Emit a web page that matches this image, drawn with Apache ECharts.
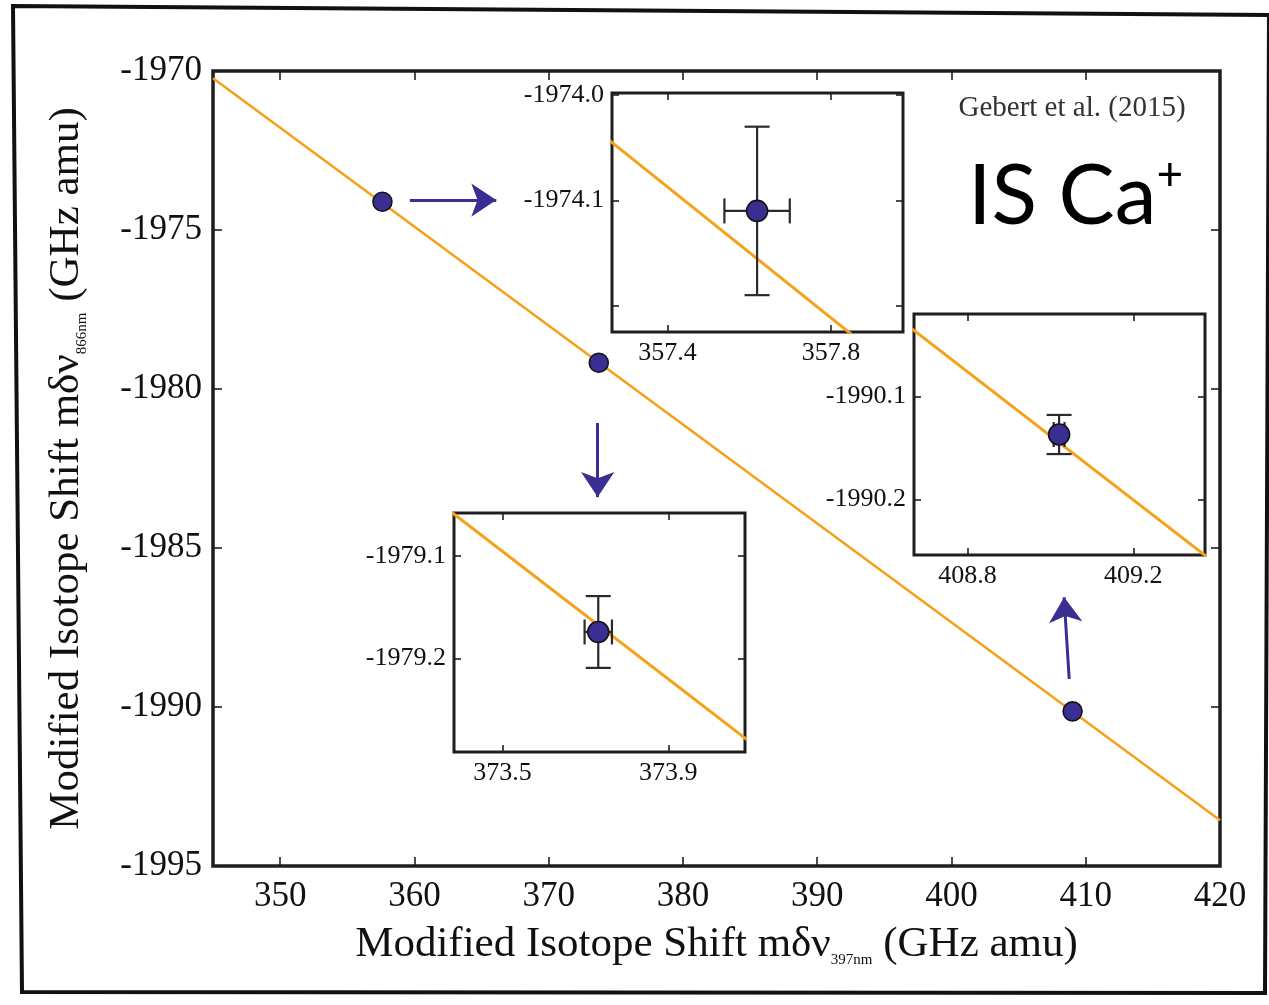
<!DOCTYPE html>
<html>
<head>
<meta charset="utf-8">
<script src="https://cdn.jsdelivr.net/npm/echarts@6/dist/echarts.min.js"></script>
<style>html,body{margin:0;padding:0;background:#fff}#c{width:1269px;height:1005px}</style>
</head>
<body>
<div id="c"></div>
<script>
// ---- data ----
const pointsX = [357.619, 373.731, 409.021];
const pointsY = [-1974.110, -1979.174, -1990.137];
const errX = [0.080, 0.033, 0.013];
const errY = [0.080, 0.035, 0.019];
const fitLineX = [345, 420];
const fitLineY = [-1970.23, -1993.56];

const mainXTicks = [350, 360, 370, 380, 390, 400, 410, 420];
const mainYTicks = [-1995, -1990, -1985, -1980, -1975, -1970];
const mainXRange = [345, 420];
const mainYRange = [-1995, -1970];

const inset1XRange = [357.264, 357.976];
const inset1YRange = [-1974.225, -1973.998];
const inset1XTicks = [357.4, 357.8];
const inset1YTicks = [-1974.2, -1974.1, -1974.0];
const inset1YLabels = [-1974.1, -1974.0];

const inset2XRange = [373.383, 374.085];
const inset2YRange = [-1979.291, -1979.058];
const inset2XTicks = [373.5, 373.9];
const inset2YTicks = [-1979.2, -1979.1];

const inset3XRange = [408.671, 409.373];
const inset3YRange = [-1990.254, -1990.020];
const inset3XTicks = [408.8, 409.2];
const inset3YTicks = [-1990.2, -1990.1];

// arrow annotations (data coordinates of main plot)
const arrowStartX = [359.66, 373.65, 408.77];
const arrowStartY = [-1974.06, -1981.07, -1989.12];
const arrowEndX = [366.10, 373.65, 408.39];
const arrowEndY = [-1974.06, -1983.40, -1986.55];

// ---- styling ----
const SERIF = "'Liberation Serif','Times New Roman',serif";
const DARK = '#1e1e1e';
const ORANGE = '#f6a11a';
const PURPLE = '#3b2e93';

const pts = pointsX.map((x, i) => [x, pointsY[i]]);
const errData = pointsX.map((x, i) => [x, pointsY[i], errX[i], errY[i]]);
const fitData = fitLineX.map((x, i) => [x, fitLineY[i]]);

const grids = [
  {left: 213, top: 71, right: 49, bottom: 139, show: true, borderColor: DARK, borderWidth: 3.5, backgroundColor: '#fff', z: 0},
  {left: 612, top: 93, width: 291, height: 239, show: true, borderColor: DARK, borderWidth: 3, backgroundColor: '#fff', z: 10},
  {left: 454, top: 513, width: 291, height: 239, show: true, borderColor: DARK, borderWidth: 3, backgroundColor: '#fff', z: 10},
  {left: 914, top: 314, width: 291, height: 241, show: true, borderColor: DARK, borderWidth: 3, backgroundColor: '#fff', z: 10}
].map(g => Object.assign({containLabel: false, outerBoundsMode: 'none'}, g));

const xAxes = [], yAxes = [];
function addAxes(gi, xr, yr, xt, yt, xl, yl, opts) {
  const z = gi === 0 ? 1 : 11;
  const fs = opts.fontSize, tl = opts.tickLen, dec = opts.dec;
  const fmt = v => dec ? Number(v).toFixed(dec) : String(Math.round(v));
  ['bottom', 'top'].forEach(pos => {
    xAxes.push({
      type: 'value', gridIndex: gi, position: pos, min: xr[0], max: xr[1], z: z,
      axisLine: {show: false}, splitLine: {show: false},
      axisTick: {show: true, inside: true, length: tl, customValues: xt, lineStyle: {color: DARK, width: 1.6}},
      axisLabel: {show: pos === 'bottom', customValues: xl, formatter: fmt, fontFamily: SERIF, fontSize: fs, color: '#111', margin: opts.xMargin},
      name: pos === 'bottom' ? opts.xName : '', nameLocation: 'middle', nameGap: opts.xNameGap, nameTextStyle: opts.xNameStyle
    });
  });
  ['left', 'right'].forEach(pos => {
    yAxes.push({
      type: 'value', gridIndex: gi, position: pos, min: yr[0], max: yr[1], z: z,
      axisLine: {show: false}, splitLine: {show: false},
      axisTick: {show: true, inside: true, length: tl, customValues: yt, lineStyle: {color: DARK, width: 1.6}},
      axisLabel: {show: pos === 'left', customValues: yl, formatter: fmt, fontFamily: SERIF, fontSize: fs, color: '#111', margin: opts.yMargin},
      name: pos === 'left' ? opts.yName : '', nameLocation: 'middle', nameGap: opts.yNameGap, nameRotate: 90, nameTextStyle: opts.yNameStyle
    });
  });
}

const nameStyle = {
  fontFamily: SERIF, fontSize: 43, color: '#111', lineHeight: 46,
  rich: {s: {fontFamily: SERIF, fontSize: 15, lineHeight: 15, verticalAlign: 'bottom', color: '#111'}}
};

addAxes(0, mainXRange, mainYRange, mainXTicks, mainYTicks, mainXTicks, mainYTicks, {
  fontSize: 35, tickLen: 9, dec: 0, xMargin: 13, yMargin: 11,
  xName: 'Modified Isotope Shift mδν{s|397nm} (GHz amu)', xNameGap: 56, xNameStyle: nameStyle,
  yName: 'Modified Isotope Shift mδν{s|866nm} (GHz amu)', yNameGap: 123, yNameStyle: nameStyle
});
const insetOpts = {fontSize: 26, tickLen: 7, dec: 1, xMargin: 8, yMargin: 8};
addAxes(1, inset1XRange, inset1YRange, inset1XTicks, inset1YTicks, inset1XTicks, inset1YLabels, insetOpts);
addAxes(2, inset2XRange, inset2YRange, inset2XTicks, inset2YTicks, inset2XTicks, inset2YTicks, insetOpts);
addAxes(3, inset3XRange, inset3YRange, inset3XTicks, inset3YTicks, inset3XTicks, inset3YTicks, insetOpts);

function errRender(params, api) {
  const x = api.value(0), y = api.value(1), ex = api.value(2), ey = api.value(3);
  const l = api.coord([x - ex, y]), r = api.coord([x + ex, y]);
  const t = api.coord([x, y + ey]), b = api.coord([x, y - ey]);
  const cap = 12.5;
  const st = {stroke: '#2a2a2a', lineWidth: 2.2, fill: null};
  const ln = (x1, y1, x2, y2) => ({type: 'line', shape: {x1, y1, x2, y2}, style: st});
  return {type: 'group', children: [
    ln(l[0], l[1], r[0], r[1]),
    ln(t[0], t[1], b[0], b[1]),
    ln(l[0], l[1] - cap, l[0], l[1] + cap),
    ln(r[0], r[1] - cap, r[0], r[1] + cap),
    ln(t[0] - cap, t[1], t[0] + cap, t[1]),
    ln(b[0] - cap, b[1], b[0] + cap, b[1])
  ]};
}

const series = [];
for (let gi = 0; gi < 4; gi++) {
  const xi = gi * 2, yi = gi * 2;
  const zb = gi === 0 ? 2 : 12;
  series.push({
    type: 'line', xAxisIndex: xi, yAxisIndex: yi, data: fitData, showSymbol: false, symbol: 'none',
    lineStyle: {color: ORANGE, width: gi === 0 ? 2.6 : 3}, clip: true, z: zb, silent: true
  });
  if (gi > 0) {
    series.push({
      type: 'custom', xAxisIndex: xi, yAxisIndex: yi, data: errData, renderItem: errRender,
      clip: true, z: zb + 1, silent: true
    });
  }
  const sc = {
    type: 'scatter', xAxisIndex: xi, yAxisIndex: yi, data: pts, symbolSize: gi === 0 ? 19 : 21,
    itemStyle: {color: PURPLE, borderColor: '#151515', borderWidth: 1.6, opacity: 1},
    clip: true, z: zb + 2, silent: true
  };
  if (gi === 0) {
    sc.markLine = {
      silent: true, symbol: ['none', 'arrow'], symbolSize: 25, animation: false,
      label: {show: false},
      lineStyle: {color: PURPLE, width: 3, type: 'solid', opacity: 1},
      emphasis: {disabled: true},
      data: arrowStartX.map((x, i) => [{coord: [x, arrowStartY[i]]}, {coord: [arrowEndX[i], arrowEndY[i]]}])
    };
  }
  series.push(sc);
}

const chart = echarts.init(document.getElementById('c'), null, {renderer: 'canvas'});
chart.setOption({
  backgroundColor: '#fff',
  animation: false,
  grid: grids,
  xAxis: xAxes,
  yAxis: yAxes,
  series: series,
  graphic: [
    {type: 'polygon', z: -1, silent: true,
     shape: {points: [[13, 6], [1269, 15], [1265, 993], [22, 992]]},
     style: {fill: null, stroke: '#111', lineWidth: 4}},
    {type: 'text', z: 50, silent: true,
     style: {text: 'Gebert et al. (2015)', x: 1072, y: 108, textAlign: 'center', textVerticalAlign: 'middle',
             font: "29px " + SERIF, fill: '#333'}},
    {type: 'text', z: 50, silent: true,
     style: {text: 'IS Ca{p|+}', x: 968, y: 197, textAlign: 'left', textVerticalAlign: 'middle',
             fontFamily: 'Lato', fontSize: 84, lineHeight: 90, fill: '#000',
             rich: {p: {fontFamily: 'Lato', fontSize: 46, lineHeight: 74, verticalAlign: 'top', fill: '#000'}}}}
  ]
});
</script>
</body>
</html>
